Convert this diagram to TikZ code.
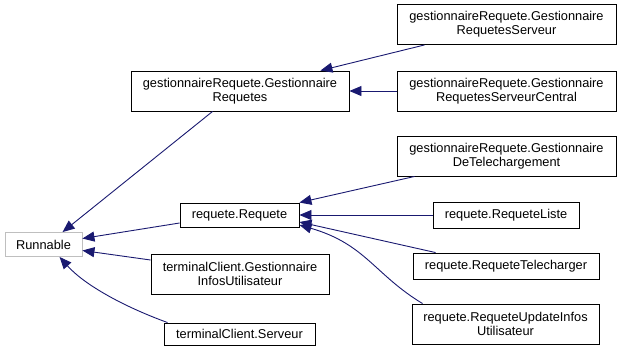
\documentclass[tikz,border=0pt]{standalone}
\usepackage{fontspec}
\setmainfont{Liberation Sans}
\usepackage{xcolor}
\usepackage{tikz}
\usetikzlibrary{arrows.meta}

\definecolor{edgeblue}{RGB}{25,25,112}
\definecolor{extgray}{RGB}{191,191,191}

\begin{document}
\begin{tikzpicture}[
  x=1pt, y=-1pt,
  >={Triangle[length=12pt,width=10pt]},
  cls/.style={draw, fill=white, line width=0.9pt, inner sep=0pt, align=center,
    font=\fontsize{12.8}{14}\selectfont, minimum height=24pt},
  twoline/.style={cls, minimum height=40pt},
  extcls/.style={cls, draw=extgray},
  inh/.style={->, line width=0.9pt, draw=edgeblue},
]
\useasboundingbox (0,0) rectangle (621,351);

% Base interface
\node[extcls, minimum width=77pt] (runnable) at (43.5,244.5) {Runnable};

% Middle column
\node[twoline, minimum width=218pt] (gr) at (240,91) {gestionnaireRequete.Gestionnaire\\Requetes};
\node[cls, minimum width=119pt] (req) at (239.5,215) {requete.Requete};
\node[twoline, minimum width=178pt] (tcg) at (240,274) {terminalClient.Gestionnaire\\InfosUtilisateur};
\node[cls, minimum width=151pt, minimum height=22pt] (tcs) at (239.5,334) {terminalClient.Serveur};

% Right column
\node[twoline, minimum width=219pt] (grs) at (506.5,24.5) {gestionnaireRequete.Gestionnaire\\RequetesServeur};
\node[twoline, minimum width=219pt] (grsc) at (506.5,91) {gestionnaireRequete.Gestionnaire\\RequetesServeurCentral};
\node[twoline, minimum width=219pt] (gdt) at (506.5,156) {gestionnaireRequete.Gestionnaire\\DeTelechargement};
\node[cls, minimum width=146pt, minimum height=26pt] (rl) at (506,215) {requete.RequeteListe};
\node[cls, minimum width=186pt, minimum height=26pt] (rt) at (506,266) {requete.RequeteTelecharger};
\node[twoline, minimum width=187pt] (ru) at (505.5,324) {requete.RequeteUpdateInfos\\Utilisateur};

% Inheritance edges
\draw[inh] ([xshift=28pt]grs.south west) -- ([xshift=-29pt]gr.north east);
\draw[inh] (grsc.west) -- (gr.east);
\draw[inh] ([xshift=82pt]gr.south west) -- ([xshift=58pt]runnable.north west);
\draw[inh] ([yshift=-8pt]req.west) -- ([yshift=6pt]runnable.east);
\draw[inh] ([yshift=14pt]tcg.west) -- ([yshift=-6pt]runnable.east);
\draw[inh] ([xshift=4pt]tcs.north west) .. controls +(-44,-16) and +(25,28) .. ([xshift=55pt]runnable.south west);
\draw[inh] ([xshift=18pt]gdt.south west) -- (req.north east);
\draw[inh] (rl.west) -- (req.east);
\draw[inh] ([xshift=23pt]rt.north west) -- ([yshift=-7pt]req.east);
\draw[inh] ([xshift=11pt]ru.north west) .. controls +(-48,-29) and +(66,19) .. ([yshift=-10pt]req.east);
\end{tikzpicture}
\end{document}
